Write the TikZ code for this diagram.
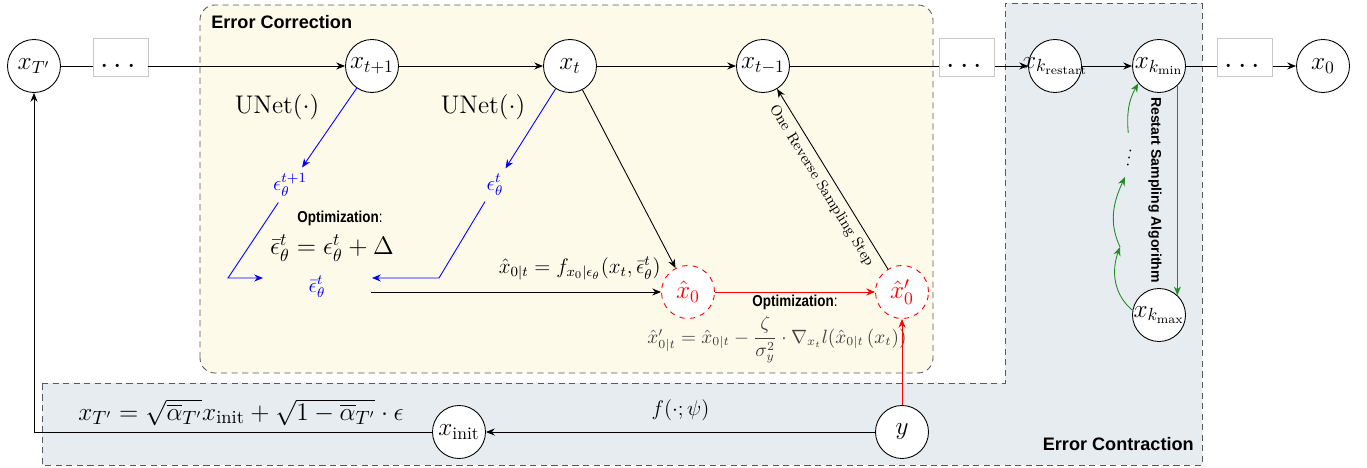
\documentclass[tikz,border=0pt]{standalone}
\usepackage{amsmath,amssymb}
\usepackage{fontspec}
\usepackage{tikz}
\usetikzlibrary{arrows.meta,calc}
\newfontfamily\labelsans{Liberation Sans}
\newfontfamily\narrowsans{Liberation Sans}[FakeStretch=0.85]
\definecolor{CorrectionFill}{RGB}{253,250,234}
\definecolor{ContractionFill}{RGB}{231,236,241}
\definecolor{DotsFrame}{RGB}{200,200,200}
\definecolor{RestartGreen}{RGB}{34,139,34}

\begin{document}
\begin{tikzpicture}[>={Stealth[length=5pt,width=4pt]},line width=0.5pt,
  state/.style={circle,draw,fill=white,minimum size=1.06cm,inner sep=0pt,font=\Large},
  estimate/.style={state,draw=red,dashed,text=red},
  dotsbox/.style={draw=DotsFrame,thin,fill=white,minimum width=1.1cm,minimum height=0.76cm,inner sep=0pt,text height=0.7cm,text depth=0.04cm,font=\LARGE},
  noise/.style={text=blue,font=\large,inner sep=3pt},
  heading/.style={font=\labelsans\bfseries\fontsize{10.3}{12}\selectfont},
  optlabel/.style={font=\narrowsans\fontsize{9}{10}\selectfont,inner sep=1.5pt},
  panel/.style={dash pattern=on 3.5pt off 2.5pt,draw=black!65}]
  \useasboundingbox (0,0) rectangle (27.34,9.36);
  \filldraw[panel,fill=ContractionFill] (0.84,1.70) -- (20.10,1.70) -- (20.10,9.30) -- (24.04,9.30) -- (24.04,0.06) -- (0.84,0.06) -- cycle;
  \filldraw[panel,fill=CorrectionFill,rounded corners=0.3cm] (4.00,1.90) rectangle (18.66,9.26);
  \node[heading,anchor=west] (corrtitle) at (4.10,8.92) {Error Correction};
  \node[heading,anchor=east] (contrtitle) at (24.00,0.48) {Error Contraction};

  \node[state] (xTp) at (0.68,8.04) {$x_{T'}$};
  \node[dotsbox] (dotsA) at (2.41,8.22) {$\cdots$};
  \node[state] (xtnext) at (7.44,8.04) {$x_{t+1}$};
  \node[state] (xt) at (11.40,8.04) {$x_t$};
  \node[state] (xtprev) at (15.26,8.04) {$x_{t-1}$};
  \node[dotsbox] (dotsB) at (19.34,8.22) {$\cdots$};
  \node[state] (xkrestart) at (21.10,8.04) {\makebox[0pt]{$x_{k_{\mathrm{restart}}}$}};
  \node[state] (xkmin) at (23.18,8.04) {\makebox[0pt]{$x_{k_{\min}}$}};
  \node[dotsbox] (dotsC) at (24.90,8.22) {$\cdots$};
  \node[state] (xzero) at (26.46,8.04) {$x_0$};
  \node[state] (xkmax) at (23.18,3.06) {\makebox[0pt]{$x_{k_{\max}}$}};
  \node[estimate] (xhat) at (13.76,3.52) {$\hat{x}_0$};
  \node[estimate] (xhatp) at (18.04,3.52) {$\hat{x}'_0$};
  \node[state] (ynode) at (18.04,0.72) {$y$};
  \node[state] (xinit) at (9.18,0.72) {$x_{\mathrm{init}}$};

  \node[noise] (epsA) at (5.80,5.66) {$\epsilon_\theta^{t+1}$};
  \node[noise] (epsB) at (9.90,5.66) {$\epsilon_\theta^{t}$};
  \node[noise] (epsbar) at (6.34,3.62) {$\bar{\epsilon}_\theta^{t}$};
  \node[font=\fontsize{14.5}{17}\selectfont] (unetA) at (5.54,7.22) {$\mathrm{UNet}(\cdot)$};
  \node[font=\fontsize{14.5}{17}\selectfont] (unetB) at (9.66,7.22) {$\mathrm{UNet}(\cdot)$};
  \node[optlabel] (optA) at (6.80,4.99) {\bfseries Optimization\mdseries:};
  \node[font=\Large,inner sep=1pt] (epsupdate) at (6.64,4.40) {$\bar{\epsilon}_\theta^{t} = \epsilon_\theta^{t} + \Delta$};
  \node[text=black!75,font=\fontsize{10.7}{13}\selectfont,inner sep=1pt] (guidance) at (15.54,2.56)
    {$\hat{x}'_{0|t} = \hat{x}_{0|t} - \dfrac{\zeta}{\sigma_y^2}\cdot\nabla_{x_t} l(\hat{x}_{0|t}\,(x_t))$};
  \node[rotate=-90,font=\labelsans\bfseries\fontsize{8}{10}\selectfont] (restartlbl) at (23.10,5.56) {Restart Sampling Algorithm};
  \node[rotate=-10] (gdots) at (22.60,6.30) {$\vdots$};

  \coordinate (bendA) at (4.56,3.80);
  \coordinate (tipA) at (5.26,3.80);
  \coordinate (bendB) at (8.78,3.80);
  \coordinate (tipB) at (7.44,3.80);
  \coordinate (epsout) at (7.42,3.52);
  \coordinate (gA) at (22.40,4.42);
  \coordinate (gB) at (22.50,5.82);

  \draw (xTp.east) -- (xTp.east -| dotsA.west);
  \draw[->] (dotsA.east |- xtnext) -- (xtnext);
  \draw[->] (xtnext) -- (xt);
  \draw[->] (xt) -- (xtprev);
  \draw (xtprev) -- (xtprev -| dotsB.west);
  \draw[->] (dotsB.east |- xkrestart) -- (xkrestart);
  \draw[->] (xkrestart) -- (xkmin);
  \draw (xkmin) -- (xkmin -| dotsC.west);
  \draw[->] (dotsC.east |- xzero) -- (xzero);

  \draw[->,blue] (xtnext) -- (epsA);
  \draw[->,blue] (epsA) -- (bendA) -- (tipA);
  \draw[->,blue] (xt) -- (epsB);
  \draw[->,blue] (epsB) -- (bendB) -- (tipB);
  \draw[->] (epsout) -- (xhat)
    node[pos=0.72,above=3pt,font=\large] {$\hat{x}_{0|t} = f_{x_0|\epsilon_\theta}(x_t, \bar{\epsilon}_\theta^{t})$};
  \draw[->] (xt) -- (xhat);
  \draw[->,red] (xhat) -- (xhatp) node[midway,below,optlabel,text=black] {\bfseries Optimization\mdseries:};
  \draw[->] (xhatp) -- (xtprev)
    node[midway,below,sloped,font=\fontsize{8.5}{10}\selectfont] {One Reverse Sampling Step};
  \draw[->,red] (ynode) -- (xhatp);
  \draw[->] (ynode) -- (xinit) node[midway,above=3pt,font=\fontsize{13}{15}\selectfont] {$f(\cdot;\psi)$};
  \draw[->] (xinit) -| (xTp)
    node[pos=0.24,above,font=\fontsize{15}{18}\selectfont] {$x_{T'} = \sqrt{\overline{\alpha}_{T'}}x_{\mathrm{init}} + \sqrt{1-\overline{\alpha}_{T'}}\cdot\epsilon$};

  \draw[->,RestartGreen] (xkmin.-47) -- (xkmax.47);
  \draw[->,RestartGreen] (xkmax.170) to[out=140,in=-110] (gA);
  \draw[->,RestartGreen] (gA) to[out=115,in=-115] (gB);
  \draw[->,RestartGreen] (gdots) to[out=100,in=-120] (xkmin.-140);
\end{tikzpicture}
\end{document}
